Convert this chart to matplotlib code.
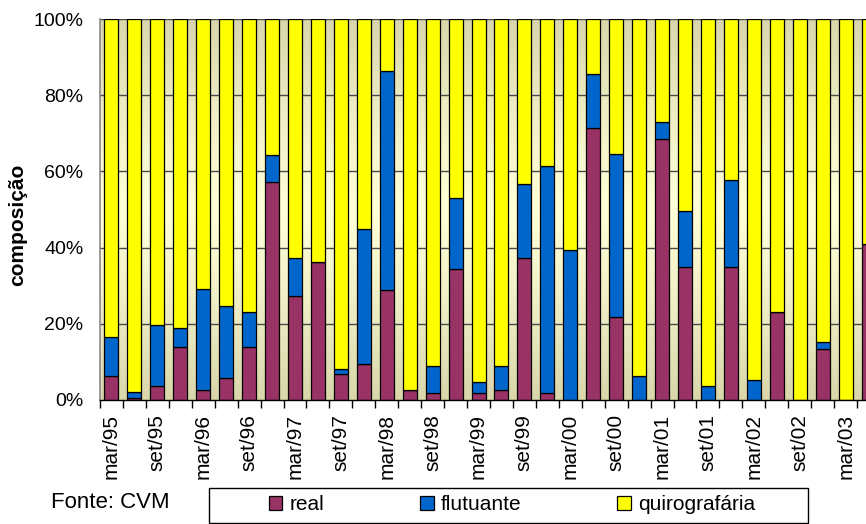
import numpy as np
import matplotlib
matplotlib.use("Agg")
import matplotlib.pyplot as plt
from matplotlib.patches import Rectangle
from matplotlib.ticker import FixedLocator, PercentFormatter

plt.rcParams['font.family'] = ['Liberation Sans', 'DejaVu Sans']

# quarterly periods, mar/95 .. jun/03
periods = ['mar/95', 'jun/95', 'set/95', 'dez/95',
           'mar/96', 'jun/96', 'set/96', 'dez/96',
           'mar/97', 'jun/97', 'set/97', 'dez/97',
           'mar/98', 'jun/98', 'set/98', 'dez/98',
           'mar/99', 'jun/99', 'set/99', 'dez/99',
           'mar/00', 'jun/00', 'set/00', 'dez/00',
           'mar/01', 'jun/01', 'set/01', 'dez/01',
           'mar/02', 'jun/02', 'set/02', 'dez/02',
           'mar/03', 'jun/03']

# share of each guarantee type (%)
real = [6.3, 0.6, 3.7, 14.0, 2.6, 5.7, 14.0, 57.2,
        27.3, 36.1, 6.7, 9.5, 28.9, 2.6, 1.9, 34.5,
        1.8, 2.6, 37.2, 1.9, 0.0, 71.5, 21.9, 0.0,
        68.5, 34.9, 0.0, 34.9, 0.0, 23.1, 0.0, 13.3,
        0.0, 41.0]
flutuante = [10.2, 1.6, 16.0, 4.8, 26.6, 19.0, 9.0, 7.2,
             9.9, 0.0, 1.4, 35.5, 57.5, 0.0, 6.9, 18.6,
             2.8, 6.2, 19.6, 59.4, 39.4, 14.1, 42.7, 6.3,
             4.5, 14.7, 3.7, 22.9, 5.3, 0.0, 0.0, 1.8,
             0.0, 0.0]
quirografaria = [100 - r - f for r, f in zip(real, flutuante)]

c_real = '#993366'
c_flut = '#0066CC'
c_quir = '#FFFF00'

fig = plt.figure(figsize=(8.66, 5.24), dpi=100, facecolor='white')
# plot area runs past the right border, last quarter is cut
ax = fig.add_axes([100/866, 1-400/524, 780/866, 381/524])

n = len(periods)
x = np.arange(n)
ax.set_xlim(-0.5, n - 0.5)
ax.set_ylim(0, 100)

# beige backdrop, darker at top and bottom
t = np.abs(np.linspace(-1, 1, 256))[:, None]
edge = np.array([0xD9, 0xD6, 0xAA]) / 255
mid = np.array([0xFF, 0xFF, 0xD8]) / 255
grad = mid + (edge - mid) * t[..., None] ** 1.2
ax.imshow(grad, extent=(-0.5, n - 0.5, 0, 100), aspect='auto',
          origin='upper', zorder=0)

for yv in [20, 40, 60, 80, 100]:
    ax.axhline(yv, color='#4a4a4a', lw=1.0, zorder=1)

w = 0.61
kw = dict(width=w, edgecolor='black', linewidth=0.9, zorder=2)
b1 = ax.bar(x, real, color=c_real, label='real', **kw)
b2 = ax.bar(x, flutuante, bottom=real, color=c_flut, label='flutuante', **kw)
bottom2 = [r + f for r, f in zip(real, flutuante)]
b3 = ax.bar(x, quirografaria, bottom=bottom2, color=c_quir,
            label='quirografária', **kw)

# y axis
ax.yaxis.set_major_locator(FixedLocator([0, 20, 40, 60, 80, 100]))
ax.yaxis.set_major_formatter(PercentFormatter(decimals=0))
ax.tick_params(axis='y', length=0, pad=12, labelsize=14, colors='black')
ax.set_ylabel('composição', fontsize=15, fontweight='bold')
ax.yaxis.set_label_coords(-0.094, 0.46)

# x axis: labels every other quarter, ticks on category borders
ax.set_xticks(x[::2])
ax.set_xticklabels(periods[::2], rotation=90, fontsize=15)
ax.set_xticks(np.arange(n + 1) - 0.5, minor=True)
ax.tick_params(axis='x', which='major', length=0, pad=10)
ax.tick_params(axis='x', which='minor', length=6, width=1, color='black')

for s in ['top', 'right']:
    ax.spines[s].set_visible(False)
ax.spines['left'].set_color('#8a8a8a')
ax.spines['left'].set_linewidth(1.2)
ax.spines['bottom'].set_color('black')
ax.spines['bottom'].set_linewidth(1.0)
ax.spines['bottom'].set_zorder(3)

# source note and legend box
fig.text(51/866, 1-502/524, 'Fonte: CVM', fontsize=16, va='center', ha='left')
fig.patches.append(Rectangle((209/866, 1-523/524), 599/866, 35/524,
                             transform=fig.transFigure, facecolor='white',
                             edgecolor='black', linewidth=1.0))
leg = fig.legend(handles=[b1, b2, b3], loc='center',
                 bbox_to_anchor=(512/866, 1-505/524), ncol=3, frameon=False,
                 fontsize=15, handlelength=0.65, handleheight=0.65,
                 handletextpad=0.35, columnspacing=4.6)

fig.savefig('out.png', dpi=100)
